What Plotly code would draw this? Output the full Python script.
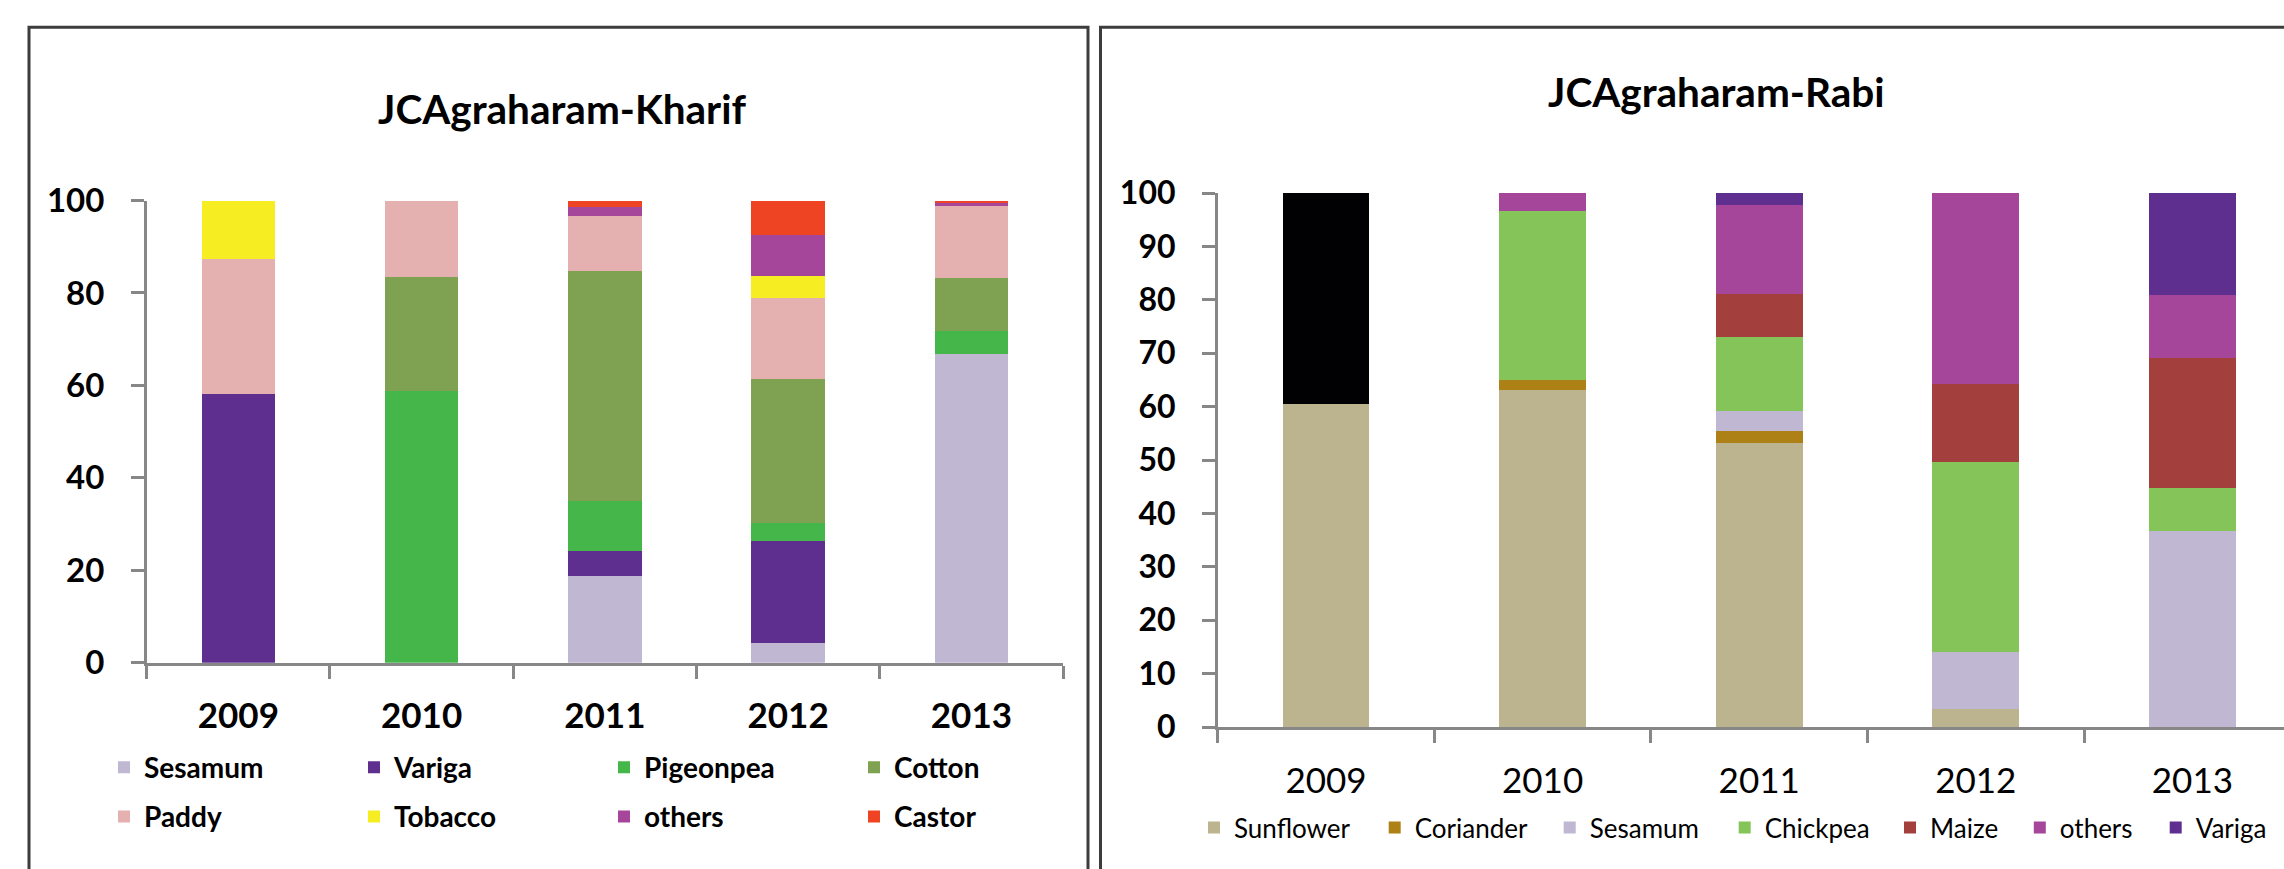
import plotly.graph_objects as go

W, H = 2284, 869

years = ["2009", "2010", "2011", "2012", "2013"]

# Kharif (left chart) values, percent
kharif_sesamum = [0, 0, 18.8, 4.3, 66.7]
kharif_variga = [58.2, 0, 5.4, 22.1, 0]
kharif_pigeonpea = [0, 58.8, 10.7, 3.8, 5.0]
kharif_cotton = [0, 24.7, 49.9, 31.1, 11.6]
kharif_paddy = [29.2, 16.5, 11.9, 17.7, 15.5]
kharif_tobacco = [12.6, 0, 0, 4.7, 0]
kharif_others = [0, 0, 1.9, 8.8, 0.6]
kharif_castor = [0, 0, 1.4, 7.5, 0.6]

# Rabi (right chart) values, percent
rabi_sunflower = [60.5, 63.1, 53.2, 3.3, 0]
rabi_coriander = [0, 1.9, 2.2, 0, 0]
rabi_sesamum = [0, 0, 3.8, 10.7, 36.7]
rabi_chickpea = [0, 31.7, 13.9, 35.6, 8.1]
rabi_maize = [0, 0, 7.9, 14.6, 24.3]
rabi_others = [0, 3.3, 16.8, 35.8, 11.8]
rabi_variga = [0, 0, 2.2, 0, 19.1]
rabi_unlabeled = [39.5, 0, 0, 0, 0]

kharif_names = ["Sesamum", "Variga", "Pigeonpea", "Cotton", "Paddy", "Tobacco", "others", "Castor"]
kharif_values = [kharif_sesamum, kharif_variga, kharif_pigeonpea, kharif_cotton,
                 kharif_paddy, kharif_tobacco, kharif_others, kharif_castor]
kharif_colors = ["#C0B7D3", "#5F2F8F", "#45B649", "#7EA152", "#E4B1B0", "#F6EE23", "#A5469A", "#EF4424"]

rabi_names = ["Sunflower", "Coriander", "Sesamum", "Chickpea", "Maize", "others", "Variga"]
rabi_values = [rabi_sunflower, rabi_coriander, rabi_sesamum, rabi_chickpea,
               rabi_maize, rabi_others, rabi_variga]
rabi_colors = ["#BBB48F", "#AE8116", "#C0B7D3", "#84C458", "#A3403E", "#A5469A", "#5F2F8F"]

FONT = "Lato, 'Open Sans', sans-serif"
AXIS_GRAY = "#878787"
SYM_OFF = 14  # px from legend left edge to symbol left edge

def px(x):
    return x / W

def py(y):
    return 1 - y / H

fig = go.Figure()

for i, (name, vals, col) in enumerate(zip(kharif_names, kharif_values, kharif_colors)):
    fig.add_trace(go.Bar(
        x=years, y=vals, name=name, marker=dict(color=col, line=dict(width=0)),
        xaxis="x", yaxis="y", legend="legend" if i < 4 else "legend2",
    ))

for i, (name, vals, col) in enumerate(zip(rabi_names, rabi_values, rabi_colors)):
    fig.add_trace(go.Bar(
        x=years, y=vals, name=name, marker=dict(color=col, line=dict(width=0)),
        xaxis="x2", yaxis="y2", legend=f"legend{i + 3}",
    ))
fig.add_trace(go.Bar(
    x=years, y=rabi_unlabeled, name="", marker=dict(color="#010104", line=dict(width=0)),
    xaxis="x2", yaxis="y2", showlegend=False,
))

# geometry (pixels)
lx0, lx1 = 146.7, 1063.0
ly0, ly100 = 662.8, 200.5
rx0 = 1217.7
rcat = 216.6
ry0, ry100 = 727.0, 193.0

axis_common = dict(showline=True, linecolor=AXIS_GRAY, linewidth=2.5, ticks="outside",
                   tickcolor=AXIS_GRAY, tickwidth=2.5, ticklen=13, showgrid=False,
                   zeroline=False, fixedrange=True, automargin=False)

legends = {}
for key, yy in (("legend", 767.5), ("legend2", 816.7)):
    legends[key] = dict(orientation="h", x=px(118 - SYM_OFF), y=py(yy), xanchor="left",
                        yanchor="middle", entrywidth=205, traceorder="normal",
                        bgcolor="rgba(0,0,0,0)", font=dict(size=28, weight="bold", color="black"))
rabi_sym_x = [1208, 1388.7, 1563.7, 1738.7, 1904, 2033.8, 2169.7]
for i, sx in enumerate(rabi_sym_x):
    legends[f"legend{i + 3}"] = dict(orientation="h", x=px(sx - SYM_OFF), y=py(827.7),
                                      xanchor="left", yanchor="middle", traceorder="normal",
                                      bgcolor="rgba(0,0,0,0)", font=dict(size=26, color="black"))

fig.update_layout(
    width=W, height=H,
    margin=dict(l=0, r=0, t=0, b=0, autoexpand=False),
    paper_bgcolor="white", plot_bgcolor="white",
    barmode="stack", bargap=0.6,
    font=dict(family=FONT, color="black"),
    xaxis=dict(domain=[px(lx0), px(lx1)], anchor="y", type="category",
               range=[-0.5, 4.5], tickson="boundaries", ticklabelstandoff=20,
               tickfont=dict(size=35, weight="bold", color="black"), **axis_common),
    yaxis=dict(domain=[py(ly0), py(ly100)], anchor="x", range=[0, 100],
               tickvals=[0, 20, 40, 60, 80, 100], ticklabelstandoff=20,
               tickfont=dict(size=33, weight="bold", color="black"), **axis_common),
    xaxis2=dict(domain=[px(rx0), 1.0], anchor="y2", type="category",
                range=[-0.5, -0.5 + (W - rx0) / rcat], tickson="boundaries", ticklabelstandoff=21,
                tickfont=dict(size=35, color="black"), **axis_common),
    yaxis2=dict(domain=[py(ry0), py(ry100)], anchor="x2", range=[0, 100],
                tickvals=list(range(0, 101, 10)), ticklabelstandoff=20,
                tickfont=dict(size=32, weight="bold", color="black"), **axis_common),
    annotations=[
        dict(text="JCAgraharam-Kharif", x=px(562), y=py(108), xref="paper", yref="paper",
             xanchor="center", yanchor="middle", showarrow=False,
             font=dict(size=40.5, weight="bold", color="black")),
        dict(text="JCAgraharam-Rabi", x=px(1716), y=py(92), xref="paper", yref="paper",
             xanchor="center", yanchor="middle", showarrow=False,
             font=dict(size=40.5, weight="bold", color="black")),
    ],
    shapes=[
        dict(type="rect", xref="paper", yref="paper", x0=px(29), x1=px(1088), y0=-0.1, y1=py(27.3),
             line=dict(color="#3C3C3C", width=3), fillcolor="rgba(0,0,0,0)", layer="above"),
        dict(type="rect", xref="paper", yref="paper", x0=px(1100.5), x1=1.1, y0=-0.1, y1=py(27.3),
             line=dict(color="#3C3C3C", width=3), fillcolor="rgba(0,0,0,0)", layer="above"),
    ],
    showlegend=True,
    **legends,
)

fig.write_html("out.html")
